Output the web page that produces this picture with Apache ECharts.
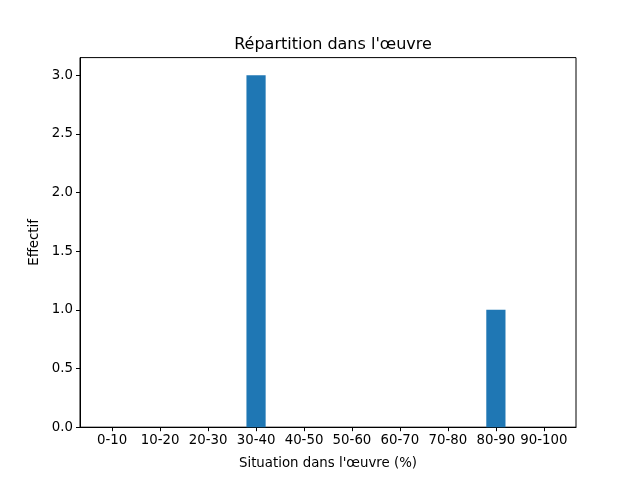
<!DOCTYPE html>
<html>
<head>
<meta charset="utf-8">
<script src="https://cdn.jsdelivr.net/npm/echarts@6/dist/echarts.min.js"></script>
<style>html,body{margin:0;padding:0;background:#fff}#c{width:640px;height:480px}</style>
</head>
<body>
<div id="c"></div>
<script>
var categories = ['0-10','10-20','20-30','30-40','40-50','50-60','60-70','70-80','80-90','90-100'];
var counts = [0, 0, 0, 3, 0, 0, 0, 0, 1, 0];
var yTicks = [0, 0.5, 1.0, 1.5, 2.0, 2.5, 3.0];

var FONT = 'DejaVu Sans';
var chart = echarts.init(document.getElementById('c'), null, {renderer: 'canvas'});
var idx = categories.map(function (_, i) { return i; });
chart.setOption({
  animation: false,
  backgroundColor: '#fff',
  title: {
    text: "Répartition dans l'œuvre",
    left: 328, top: 32, textAlign: 'center',
    textStyle: {fontFamily: FONT, fontSize: 16, fontWeight: 'normal', color: '#000'}
  },
  grid: {left: 80, right: 64, top: 57.6, bottom: 52.8, show: true, borderColor: '#000', borderWidth: 1, containLabel: false},
  xAxis: {
    type: 'value', min: -0.67, max: 9.67,
    name: "Situation dans l'œuvre (%)", nameLocation: 'middle', nameGap: 30,
    nameTextStyle: {fontFamily: FONT, fontSize: 13.33, color: '#000'},
    axisLine: {show: true, onZero: false, lineStyle: {color: '#000', width: 1}},
    axisTick: {show: true, length: 4, lineStyle: {color: '#000'}, customValues: idx},
    axisLabel: {margin: 7, fontFamily: FONT, fontSize: 13.33, color: '#000', customValues: idx,
      formatter: function (v) { return categories[Math.round(v)]; }},
    splitLine: {show: false}
  },
  yAxis: {
    type: 'value', min: 0, max: 3.15,
    name: 'Effectif', nameLocation: 'middle', nameGap: 36,
    nameTextStyle: {fontFamily: FONT, fontSize: 13.33, color: '#000'},
    axisLine: {show: true, onZero: false, lineStyle: {color: '#000', width: 1}},
    axisTick: {show: true, length: 4, lineStyle: {color: '#000'}, customValues: yTicks},
    axisLabel: {margin: 7, fontFamily: FONT, fontSize: 13.33, color: '#000', customValues: yTicks,
      formatter: function (v) { return v.toFixed(1); }},
    splitLine: {show: false}
  },
  series: [{
    type: 'bar',
    barWidth: 19.2,
    itemStyle: {color: '#1f77b4', borderWidth: 0},
    data: counts.map(function (v, i) { return [i, v]; })
  }]
});
</script>
</body>
</html>
